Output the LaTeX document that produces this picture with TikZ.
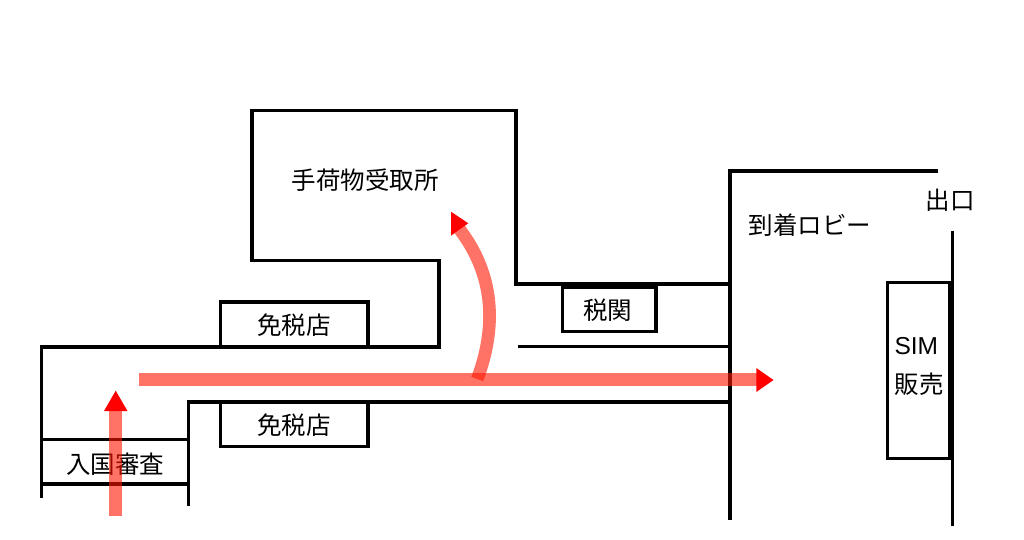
\documentclass[tikz,border=0pt]{standalone}
\usepackage{fontspec}
\setmainfont{Noto Sans CJK JP}
\setsansfont{Liberation Sans}
\usepackage{xcolor}
\definecolor{routeRed}{RGB}{255,22,0}
\tikzset{
  wall/.style={draw=black,line width=3.2pt},
  label/.style={inner sep=0pt,font=\fontsize{24.5}{28}\selectfont},
  route/.style={draw=routeRed,opacity=0.6,line width=12.7pt},
  routeHead/.style={fill=red,draw=none}
}

\begin{document}
\begin{tikzpicture}[x=1pt,y=-1pt]
  \useasboundingbox (0,0) rectangle (1024,540);

  % hall from immigration
  \draw[wall] (41.7,498) -- (41.7,347) -- (439,347) -- (439,260.7) -- (252,260.7) -- (252,110.7) -- (516,110.7) -- (516,284) -- (730,284);
  \draw[wall] (188.5,506) -- (188.5,402) -- (730,402);
  \draw[wall] (518,346.7) -- (730,346.7);

  % booths
  \draw[wall] (41.7,439.5) -- (188.5,439.5);
  \draw[wall] (41.7,484) -- (188.5,484);
  \draw[wall] (220.7,347) -- (220.7,302) -- (368,302) -- (368,347);
  \draw[wall] (220.7,402) -- (220.7,446.7) -- (368,446.7) -- (368,402);
  \draw[wall] (562.7,287) rectangle (656,331.7);

  % lobby
  \draw[wall] (730,520) -- (730,171) -- (938,171);
  \draw[wall] (952.3,231) -- (952.3,526);
  \draw[wall] (950,282.7) -- (887.7,282.7) -- (887.7,458.3) -- (950,458.3) -- cycle;

  \node[label] (NyKo) at (115,464) {入国審査};
  \node[label] (MeUe) at (294,325) {免税店};
  \node[label] (MeSh) at (294,425) {免税店};
  \node[label] (TeNi) at (365,180) {手荷物受取所};
  \node[label] (ZeKa) at (607.5,310) {税関};
  \node[label] (ToRo) at (810,225) {到着ロビー};
  \node[label] (DeGu) at (950,200) {出口};
  \node[label,anchor=west,font=\fontsize{24.5}{28}\sffamily] (SiMu) at (894.3,346) {SIM};
  \node[label,anchor=west] (HaBa) at (894.3,384) {販売};

  % routes
  \draw[route] (115.7,516) -- (115.7,410.7);
  \fill[routeHead] (115.7,390.7) -- (127.5,411) -- (104,411) -- cycle;
  \draw[route] (139,379.3) -- (756.7,379.3);
  \fill[routeHead] (773.5,380) -- (756.3,368) -- (756.3,392) -- cycle;
  \draw[route] (477.3,379) .. controls (491,342) and (502,285) .. (459.7,229.5);
  \fill[routeHead] (451,211.7) -- (468.3,223.3) -- (451,235.7) -- cycle;

\end{tikzpicture}
\end{document}
